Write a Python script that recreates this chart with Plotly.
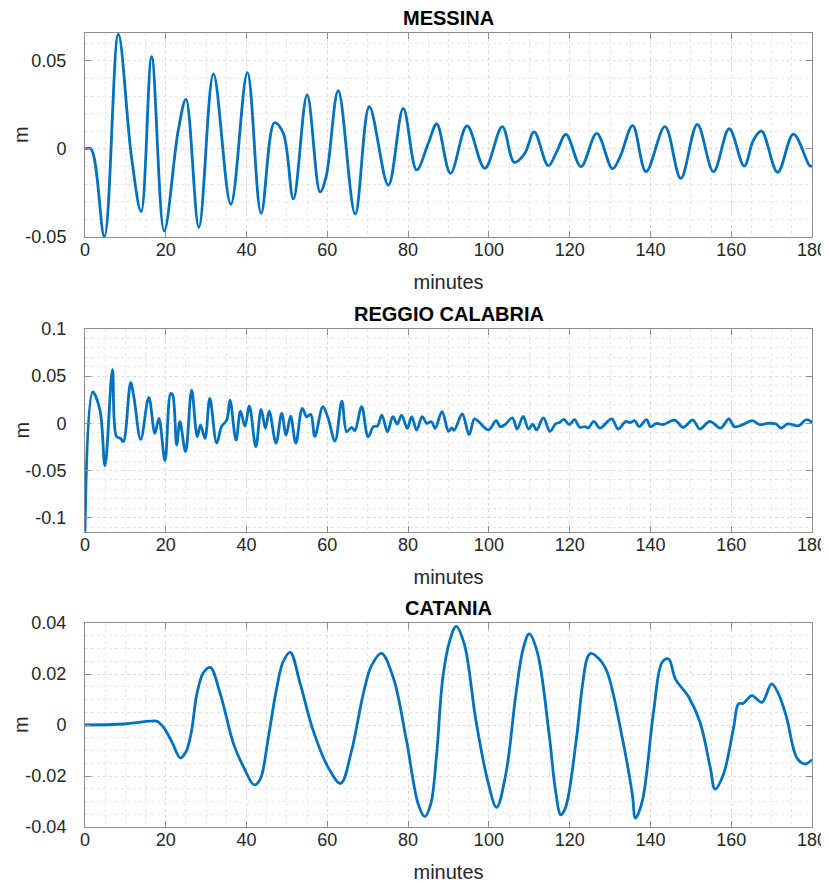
import plotly.graph_objects as go
from plotly.subplots import make_subplots

# ---------------- data ----------------
msn_t = [0, 1.5, 4.8, 8.25, 11.5, 13.9, 16.5, 19.6, 23.1, 25.0, 28.2, 31.8, 36.1, 40.2, 43.6, 46.9, 49.1,
         51.6, 55.0, 58.2, 59.7, 62.7, 66.9, 70.4, 75.1, 78.8, 82.1, 85.0, 87.1, 90.5, 94.6, 99.0, 103.3,
         106.3, 108.9, 111.2, 114.7, 116.8, 119.1, 122.8, 126.7, 130.6, 132.5, 135.6, 138.9, 143.6, 147.5,
         151.6, 155.6, 159.5, 163.2, 165.5, 167.5, 171.5, 175.4, 179.5, 180]
msn_y = [0, 0, -0.0498, 0.0652, -0.0044, -0.0356, 0.0524, -0.0466, 0.0108, 0.0282, -0.0445, 0.0426,
         -0.0314, 0.0434, -0.0365, 0.0149, 0.0089, -0.0284, 0.0307, -0.0244, -0.0157, 0.0331, -0.0369,
         0.024, -0.0205, 0.0231, -0.0119, 0.0032, 0.0142, -0.0138, 0.0131, -0.011, 0.0127, -0.0076,
         -0.0025, 0.0097, -0.0095, -0.0015, 0.0083, -0.01, 0.0089, -0.0112, -0.0044, 0.0133, -0.0129,
         0.0127, -0.0167, 0.014, -0.0129, 0.0115, -0.0097, 0.0051, 0.0102, -0.0132, 0.0085, -0.0097, -0.0094]

rc_t = [0, 1.9, 3.7, 4.95, 6.8, 7.8, 8.8, 9.5, 11.3, 12.1, 13.8, 15.8, 17.3, 18.3, 19.8, 21.2, 21.7, 22.7,
        23.5, 24.9, 26.4, 27.8, 28.6, 29.7, 30.9, 32.6, 33.8, 35.1, 35.9, 37.4, 38.5, 39.6, 40.7, 42.3,
        43.6, 44.7, 45.6, 47.3, 48.7, 49.8, 50.9, 52.2, 53.8, 54.9, 55.9, 56.9, 58.9, 60.2, 61.9, 63.6,
        64.8, 66.0, 66.8, 68.5, 70.1, 71.4, 72.4, 73.5, 74.9, 76.2, 77.3, 78.4, 79.8, 80.9, 82.1, 83.5,
        84.6, 85.8, 86.7, 88.4, 90.0, 90.8, 91.4, 93.4, 95.1, 96.4, 97.4, 99.9, 101.8, 102.8, 104.0,
        105.8, 107.0, 108.5, 109.8, 110.9, 111.8, 113.5, 115.1, 116.5, 117.5, 118.6, 119.9, 121.2, 122.5,
        123.8, 124.6, 126.0, 127.5, 130.4, 132.0, 133.9, 134.9, 136.1, 137.2, 139.0, 140.0, 141.5, 143.1,
        146.0, 148.1, 150.5, 152.2, 154.7, 157.4, 159.4, 160.8, 162.9, 165.3, 167.0, 169.0, 171.1, 172.3,
        174.0, 176.7, 178.6, 180]
rc_y = [-0.115, 0.0334, 0.014, -0.045, 0.057, -0.014, -0.016, -0.0194, 0.043, 0.028, -0.017, 0.0275,
        -0.0106, 0.0053, -0.0395, 0.0317, 0.03, -0.023, 0.0017, -0.03, 0.0352, -0.014, -0.0018, -0.016,
        0.0264, -0.021, -0.0035, 0.0035, 0.0246, -0.0177, 0.013, -0.003, 0.0183, -0.0247, 0.0148, -0.0053,
        0.013, -0.021, 0.0106, -0.0124, 0.0077, -0.021, 0.0158, 0.007, 0.0095, -0.014, 0.0176, 0.0053,
        -0.0187, 0.0236, -0.0089, -0.0042, -0.0078, 0.0176, -0.0141, -0.0036, -0.0029, 0.0088, -0.0089,
        0.007, -0.0007, 0.0088, -0.0053, 0.007, -0.0071, 0.007, 0.0, 0.0017, -0.0053, 0.0124, -0.0085,
        -0.0049, -0.0074, 0.0099, -0.012, 0.0046, 0.002, -0.007, 0.0028, -0.0035, -0.0014, 0.0057, -0.006,
        0.0074, -0.006, -0.001, -0.007, 0.0057, -0.0085, -0.0007, 0.001, 0.0042, -0.0014, 0.0039, -0.0042,
        -0.0035, -0.005, 0.002, -0.005, 0.0046, -0.006, 0.002, 0.0007, 0.0028, -0.0035, 0.0039, -0.0035,
        0.0, -0.0014, 0.0035, -0.0042, 0.0035, -0.006, 0.002, -0.005, 0.0046, -0.0035, -0.0014, 0.0028,
        -0.0014, 0.0, -0.0007, -0.005, -0.0007, -0.0025, 0.0039, 0.001]

ct_t = [0, 9.6, 16.2, 17.9, 19.5, 21.6, 23.6, 25.0, 26.3, 27.7, 29.3, 31.0, 33.5, 36.8, 39.3, 41.9, 43.4,
        45.4, 47.5, 49.1, 50.8, 53.3, 56.5, 60.2, 63.3, 66.0, 68.9, 70.9, 73.4, 76.3, 79.6, 82.5, 84.1,
        85.6, 87.0, 88.6, 90.3, 91.9, 93.9, 96.8, 99.7, 101.9, 104.2, 106.7, 108.5, 110.0, 112.0, 114.9,
        116.5, 117.8, 119.0, 121.5, 123.2, 124.4, 125.2, 127.3, 129.3, 133.0, 135.5, 136.3, 138.0, 140.8,
        142.9, 144.5, 146.2, 149.5, 152.3, 154.8, 156.0, 158.1, 160.6, 161.8, 163.0, 165.1, 167.6, 170.0,
        171.7, 173.7, 176.2, 178.2, 180]
ct_y = [0, 0.0004, 0.0015, 0.0014, -0.001, -0.0069, -0.0129, -0.0105, -0.003, 0.0122, 0.0205, 0.0226,
        0.0122, -0.0075, -0.0166, -0.0235, -0.0212, -0.0048, 0.0148, 0.025, 0.0285, 0.0161, -0.0022,
        -0.0166, -0.0229, -0.0101, 0.0122, 0.0232, 0.0281, 0.0187, -0.0061, -0.031, -0.0359, -0.031,
        -0.0127, 0.0187, 0.033, 0.0387, 0.0318, 0.0017, -0.0218, -0.0323, -0.0192, 0.0122, 0.030, 0.0357,
        0.0285, -0.0035, -0.0257, -0.0352, -0.0323, -0.0075, 0.016, 0.0265, 0.0281, 0.0259, 0.0207,
        -0.0048, -0.027, -0.0365, -0.0297, 0.0056, 0.0246, 0.0259, 0.018, 0.0109, 0.001, -0.0166, -0.0251,
        -0.0192, -0.0009, 0.0083, 0.0085, 0.0115, 0.0089, 0.0161, 0.0122, 0.003, -0.0127, -0.0153, -0.0136]

titles = ["MESSINA", "REGGIO CALABRIA", "CATANIA"]
x_ticks = [0, 20, 40, 60, 80, 100, 120, 140, 160, 180]
y_ticks = [[-0.05, 0, 0.05],
           [-0.1, -0.05, 0, 0.05, 0.1],
           [-0.04, -0.02, 0, 0.02, 0.04]]
y_ticktext = [["-0.05", "0", "0.05"],
              ["-0.1", "-0.05", "0", "0.05", "0.1"],
              ["-0.04", "-0.02", "0", "0.02", "0.04"]]
y_ranges = [[-0.05, 0.0659], [-0.1152, 0.1], [-0.04, 0.04]]
y_minor = [0.01, 0.01, 0.005]

# ---------------- figure ----------------
# the page body adds an 8px offset, so the figure is 8px smaller than the window
OFF = 8
W, H = 829 - OFF, 883 - OFF
ML, MT = 85 - OFF, 33 - OFF
MR = W - (812 - OFF)
MB = H - (827 - OFF)
ph = H - MT - MB
pw = W - ML - MR
def frac(py):
    return (H - MB - (py - OFF)) / ph

domains = [(frac(237), 1.0), (frac(532), frac(329)), (0.0, frac(623))]

FONT = "Helvetica, 'Liberation Sans', Arial, sans-serif"
LINE = "#0072BD"
AXC = "#8c8c8c"
GRID = "#d9d9d9"
MGRID = "#e6e6e6"
TXT = "#262626"

fig = make_subplots(rows=3, cols=1)
series = [(msn_t, msn_y), (rc_t, rc_y), (ct_t, ct_y)]
for i, (t, y) in enumerate(series):
    fig.add_trace(go.Scatter(x=t, y=y, mode="lines",
                             line=dict(color=LINE, width=2.8, shape="spline", smoothing=1.0),
                             showlegend=False, hoverinfo="skip"), row=i + 1, col=1)

for i in range(3):
    xa = dict(range=[0, 180], tickmode="array", tickvals=x_ticks,
              ticktext=[str(v) for v in x_ticks], ticks="inside", ticklen=6, tickcolor=AXC,
              showline=True, linecolor=AXC, linewidth=1, mirror="allticks",
              showgrid=True, gridcolor=GRID, griddash="dot", gridwidth=1,
              zeroline=False, automargin=False, ticklabelstandoff=-4,
              minor=dict(dtick=5, showgrid=True, gridcolor=MGRID, griddash="dot", ticks=""),
              tickfont=dict(family=FONT, size=18, color=TXT),
              title=dict(text="minutes", font=dict(family=FONT, size=20, color=TXT), standoff=16))
    ya = dict(range=y_ranges[i], tickmode="array", tickvals=y_ticks[i], ticktext=y_ticktext[i],
              ticks="inside", ticklen=6, tickcolor=AXC,
              showline=True, linecolor=AXC, linewidth=1, mirror="allticks",
              showgrid=True, gridcolor=GRID, griddash="dot", gridwidth=1,
              zeroline=False, domain=list(domains[i]), automargin=False,
              minor=dict(dtick=y_minor[i], tick0=0, showgrid=True, gridcolor=MGRID, griddash="dot", ticks=""),
              tickfont=dict(family=FONT, size=18, color=TXT),
              ticklabelstandoff=14)
    fig.update_xaxes(xa, row=i + 1, col=1)
    fig.update_yaxes(ya, row=i + 1, col=1)
    # panel title
    fig.add_annotation(text="<b>" + titles[i] + "</b>", x=0.5, xref="paper",
                       y=domains[i][1], yref="paper", yanchor="bottom", xanchor="center",
                       yshift=2, showarrow=False,
                       font=dict(family=FONT, size=20, color="#000000"))
    # y-axis label "m"
    fig.add_annotation(text="m", textangle=-90, x=-(85 - 21) / pw, xref="paper",
                       y=(domains[i][0] + domains[i][1]) / 2, yref="paper",
                       xanchor="center", yanchor="middle", showarrow=False, borderpad=0,
                       font=dict(family=FONT, size=20, color=TXT))

fig.update_layout(width=W, height=H, margin=dict(l=ML, r=MR, t=MT, b=MB, autoexpand=False),
                  plot_bgcolor="white", paper_bgcolor="white",
                  font=dict(family=FONT))

fig.write_html("out.html")
